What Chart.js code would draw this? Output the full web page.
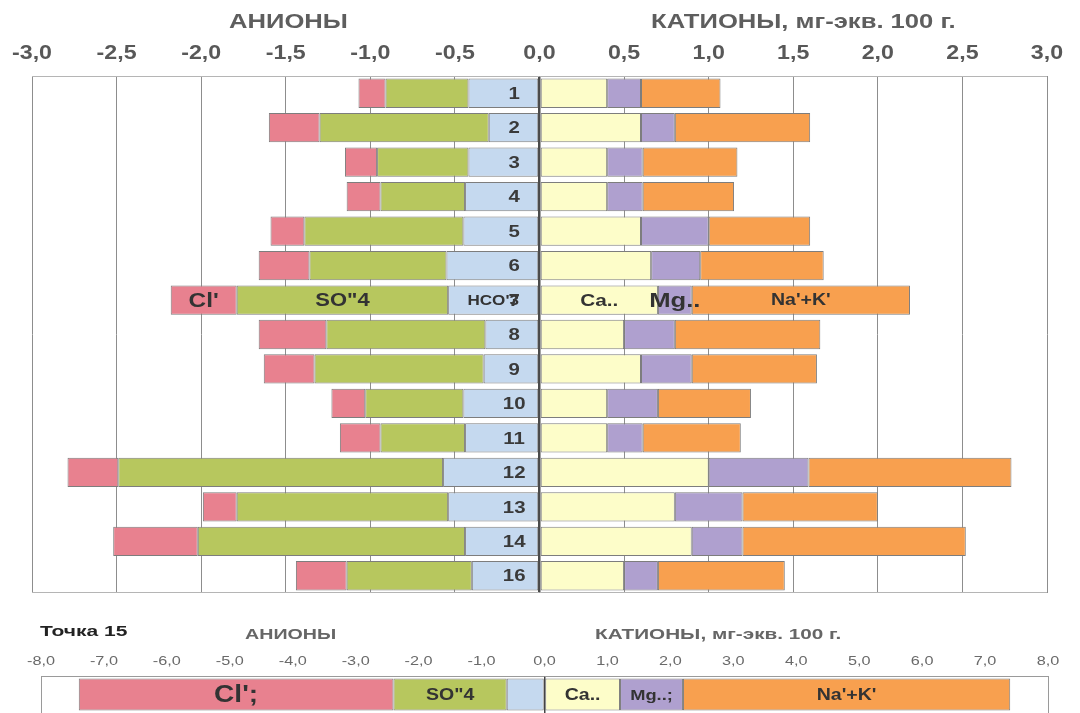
<!DOCTYPE html>
<html>
<head>
<meta charset="utf-8">
<script src="https://cdn.jsdelivr.net/npm/chart.js@4.4.1/dist/chart.umd.min.js"></script>
<style>
    body { margin: 0; background: #fff; }
    #wrap { position: relative; width: 1080px; height: 713px; overflow: hidden; font-family: "Liberation Sans", Arial, sans-serif; }
    .box { position: absolute; left: 0; width: 1080px; }
    .t { position: absolute; font-weight: bold; white-space: nowrap; z-index: 2; transform-origin: 0 0; }
</style>
</head>
<body>
<div id="wrap">
    <div class="box" style="top:0;height:600px"><canvas id="topChart"></canvas></div>
    <div class="box" style="top:600px;height:113px"><canvas id="p15Chart"></canvas></div>
    <div class="t" style="left:229px;top:10px;font-size:20px;color:#5e5e5e;transform:scaleX(1.28)">АНИОНЫ</div>
    <div class="t" style="left:651px;top:10px;font-size:20px;color:#5e5e5e;transform:scaleX(1.28)">КАТИОНЫ, мг-экв. 100 г.</div>
    <div class="t" style="left:40px;top:622px;font-size:15px;color:#222;transform:scaleX(1.4)">Точка 15</div>
    <div class="t" style="left:245px;top:625px;font-size:15px;color:#666;transform:scaleX(1.31)">АНИОНЫ</div>
    <div class="t" style="left:595px;top:625px;font-size:15px;color:#666;transform:scaleX(1.38)">КАТИОНЫ, мг-экв. 100 г.</div>
</div>
<script>
// точки отбора
const rows = ["1", "2", "3", "4", "5", "6", "7", "8", "9", "10", "11", "12", "13", "14", "16"];
// анионы, мг-экв
const hco3 = [0.42, 0.30, 0.42, 0.44, 0.45, 0.55, 0.54, 0.32, 0.33, 0.45, 0.44, 0.57, 0.54, 0.44, 0.40];
const so4 = [0.49, 1.00, 0.54, 0.50, 0.94, 0.81, 1.25, 0.94, 1.00, 0.58, 0.50, 1.92, 1.25, 1.58, 0.74];
const cl = [0.16, 0.30, 0.19, 0.20, 0.20, 0.30, 0.39, 0.40, 0.30, 0.20, 0.24, 0.30, 0.20, 0.50, 0.30];
// катионы, мг-экв
const ca = [0.40, 0.60, 0.40, 0.40, 0.60, 0.66, 0.70, 0.50, 0.60, 0.40, 0.40, 1.00, 0.80, 0.90, 0.50];
const mg = [0.20, 0.20, 0.21, 0.21, 0.40, 0.29, 0.20, 0.30, 0.30, 0.30, 0.21, 0.59, 0.40, 0.30, 0.20];
const na = [0.47, 0.80, 0.56, 0.54, 0.60, 0.73, 1.29, 0.86, 0.74, 0.55, 0.58, 1.20, 0.80, 1.32, 0.75];

// Точка 15: HCO3, SO4, Cl / Ca, Mg, Na+K
const p15Row = ["15"];
const p15Anions = [0.6, 1.8, 5.0];
const p15Cations = [1.2, 1.0, 5.2];

const ionNames = ["HCO'3", 'SO"4', "Cl'", "Ca..", "Mg..", "Na'+K'"];
const p15Names = ["", 'SO"4', "Cl';", "Ca..", "Mg..;", "Na'+K'"];
const colors = ["#c5d9ef", "#b7c75e", "#e8818f", "#fdfdc9", "#afa0cf", "#f8a04f"];

const FONT = "'Liberation Sans', Arial, sans-serif";
const fmt = (v) => v.toFixed(1).replace(".", ",").replace("-0,0", "0,0");
const neg = (arr) => arr.map((v) => -v);

const makeSets = (series, pct) =>
    series.map((data, i) => ({
        data,
        backgroundColor: colors[i],
        borderColor: "#7d7d7d",
        borderWidth: 1,
        borderSkipped: false,
        barPercentage: pct,
        categoryPercentage: 1,
    }));

// растянутый по горизонтали текст, как в оригинале
function wideText(ctx, txt, x, y, sx) {
    ctx.save();
    ctx.translate(x, y);
    ctx.scale(sx, 1);
    ctx.fillText(txt, 0, 0);
    ctx.restore();
}

// рамка области построения
const framePlugin = {
    id: "frame",
    beforeDatasetsDraw(chart, args, opts) {
        const { ctx, chartArea: a } = chart;
        ctx.save();
        ctx.strokeStyle = opts.color || "#b5b5b5";
        ctx.lineWidth = 1;
        ctx.beginPath();
        ctx.moveTo(a.left, a.top + 0.5);
        ctx.lineTo(a.right, a.top + 0.5);
        if (opts.bottom) {
            ctx.moveTo(a.left, a.bottom - 0.5);
            ctx.lineTo(a.right, a.bottom - 0.5);
        }
        ctx.stroke();
        ctx.restore();
    },
};

// подписи оси X сверху (значения берутся из шкалы)
const tickPlugin = {
    id: "wideTicks",
    afterDraw(chart, args, opts) {
        const { ctx } = chart;
        const sc = chart.scales.x;
        ctx.save();
        ctx.textAlign = "center";
        ctx.textBaseline = "middle";
        ctx.fillStyle = opts.color;
        ctx.font = opts.font;
        sc.ticks.forEach((t) => {
            wideText(ctx, fmt(t.value), sc.getPixelForValue(t.value), opts.y, opts.sx);
        });
        ctx.restore();
    },
};

// подписи внутри сегментов
const segLabelPlugin = {
    id: "segLabels",
    afterDatasetsDraw(chart, args, opts) {
        const { ctx } = chart;
        ctx.save();
        ctx.textAlign = "center";
        ctx.textBaseline = "middle";
        ctx.fillStyle = "#333";
        opts.texts.forEach((txt, i) => {
            if (!txt) return;
            const bar = chart.getDatasetMeta(i).data[opts.row];
            ctx.font = "bold " + opts.sizes[i] + "px " + FONT;
            wideText(ctx, txt, (bar.x + bar.base) / 2, bar.y + 1, 1.22);
        });
        if (opts.numbers) {
            const x = chart.scales.x.getPixelForValue(-0.15);
            ctx.font = "bold 17px " + FONT;
            ctx.fillStyle = "#3a3a3a";
            chart.data.labels.forEach((lab, j) => {
                const bar = chart.getDatasetMeta(0).data[j];
                wideText(ctx, lab, x, bar.y + 1, 1.2);
            });
        }
        ctx.restore();
    },
};

new Chart(document.getElementById("topChart"), {
    type: "bar",
    plugins: [framePlugin, segLabelPlugin, tickPlugin],
    data: {
        labels: rows,
        datasets: makeSets([neg(hco3), neg(so4), neg(cl), ca, mg, na], 0.85),
    },
    options: {
        indexAxis: "y",
        responsive: true,
        maintainAspectRatio: false,
        animation: false,
        layout: { padding: { left: 32, right: 33, top: 0, bottom: 7 } },
        plugins: {
            legend: { display: false },
            tooltip: { enabled: false },
            frame: { bottom: true },
            segLabels: { row: 6, texts: ionNames, sizes: [14, 18, 20, 17, 21, 16], numbers: true },
            wideTicks: { y: 53, sx: 1.16, color: "#585858", font: "bold 20px " + FONT },
        },
        scales: {
            x: {
                stacked: true,
                position: "top",
                min: -3,
                max: 3,
                afterFit: (s) => { s.height = 76; },
                border: { display: false },
                grid: {
                    drawTicks: false,
                    color: (c) => (c.tick && c.tick.value === 0 ? "#4a4a4a" : "#8d8d8d"),
                    lineWidth: (c) => (c.tick && c.tick.value === 0 ? 2.5 : 1),
                },
                ticks: { stepSize: 0.5, display: false },
            },
            y: { stacked: true, display: false },
        },
    },
});

new Chart(document.getElementById("p15Chart"), {
    type: "bar",
    plugins: [framePlugin, segLabelPlugin, tickPlugin],
    data: {
        labels: p15Row,
        datasets: makeSets(
            [[-p15Anions[0]], [-p15Anions[1]], [-p15Anions[2]], [p15Cations[0]], [p15Cations[1]], [p15Cations[2]]],
            0.87
        ),
    },
    options: {
        indexAxis: "y",
        responsive: true,
        maintainAspectRatio: false,
        animation: false,
        layout: { padding: { left: 41, right: 32, top: 0, bottom: 0 } },
        plugins: {
            legend: { display: false },
            tooltip: { enabled: false },
            frame: { bottom: false, color: "#9a9a9a" },
            segLabels: { row: 0, texts: p15Names, sizes: [16, 16, 23, 16, 15, 16] },
            wideTicks: { y: 61, sx: 1.25, color: "#6a6a6a", font: "13px " + FONT },
        },
        scales: {
            x: {
                stacked: true,
                position: "top",
                min: -8,
                max: 8,
                afterFit: (s) => { s.height = 76; },
                border: { display: false },
                grid: {
                    drawTicks: false,
                    color: (c) => {
                        const v = c.tick ? c.tick.value : null;
                        if (v === 0) return "#444";
                        if (v === -8 || v === 8) return "#9a9a9a";
                        return "rgba(0,0,0,0)";
                    },
                    lineWidth: (c) => (c.tick && c.tick.value === 0 ? 1.5 : 1),
                },
                ticks: { stepSize: 1, display: false },
            },
            y: { stacked: true, display: false },
        },
    },
});
</script>
</body>
</html>
